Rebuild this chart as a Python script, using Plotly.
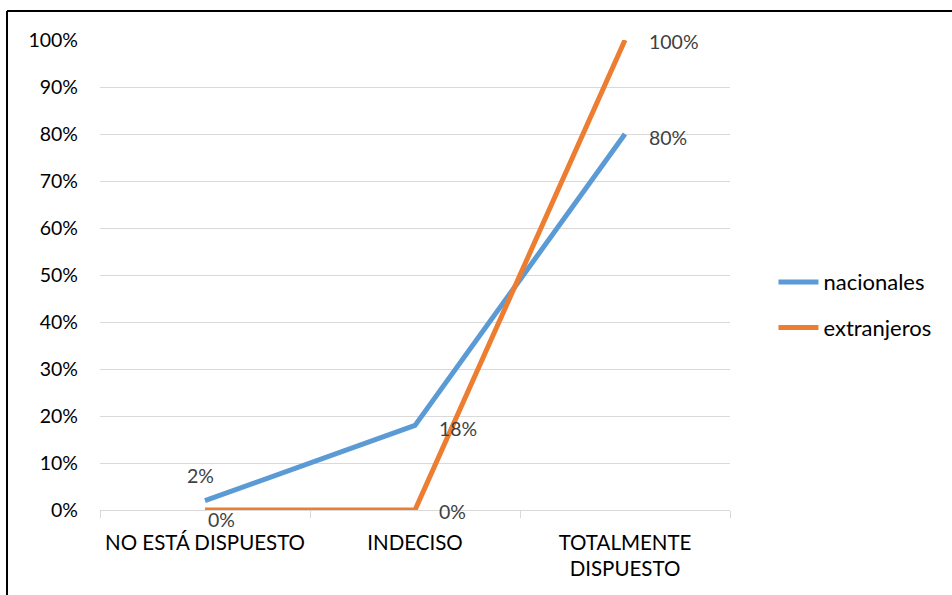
import plotly.graph_objects as go

categories = ["NO ESTÁ DISPUESTO", "INDECISO", "TOTALMENTE<br>DISPUESTO"]
nacionales = [0.02, 0.18, 0.80]
extranjeros = [0.00, 0.00, 1.00]
y_ticks = [0, 0.1, 0.2, 0.3, 0.4, 0.5, 0.6, 0.7, 0.8, 0.9, 1.0]

FONT = "Lato"
BLUE = "#5B9BD5"
ORANGE = "#ED7D31"

fig = go.Figure()
fig.add_trace(go.Scatter(x=categories, y=nacionales, name="nacionales", mode="lines",
                         line=dict(color=BLUE, width=5), legendgroup="a", cliponaxis=False))
fig.add_trace(go.Scatter(x=categories, y=extranjeros, name="extranjeros", mode="lines",
                         line=dict(color=ORANGE, width=5), legendgroup="b", cliponaxis=False))

# data labels (offsets are style only; positions come from data)
nac_offsets = [dict(xanchor="center", xshift=-5, yshift=25),
               dict(xanchor="left", xshift=22, yshift=-3),
               dict(xanchor="left", xshift=22, yshift=-3)]
ext_offsets = [dict(xanchor="center", xshift=16, yshift=-9),
               dict(xanchor="left", xshift=22, yshift=-1),
               dict(xanchor="left", xshift=22, yshift=-1)]
annotations = []
for series, offs in ((nacionales, nac_offsets), (extranjeros, ext_offsets)):
    for cat, v, o in zip(categories, series, offs):
        annotations.append(dict(x=cat, y=v, xref="x", yref="y", text=f"{v:.0%}",
                                showarrow=False, yanchor="middle",
                                font=dict(family=FONT, size=19.5, color="#404040"), **o))

fig.update_layout(
    width=952, height=595,
    margin=dict(l=100, r=222, t=40, b=85),
    paper_bgcolor="white", plot_bgcolor="white",
    font=dict(family=FONT, size=19.5, color="black"),
    showlegend=True,
    legend=dict(x=1.069, y=0.436, xanchor="left", yanchor="middle",
                font=dict(family=FONT, size=22, color="black"),
                traceorder="grouped", tracegroupgap=14, itemwidth=40),
    xaxis=dict(type="category", range=[-0.5, 2.5], showgrid=False,
               showline=True, linecolor="#D9D9D9", linewidth=1,
               ticks="outside", tickson="boundaries", ticklen=7,
               tickcolor="#D9D9D9", tickfont=dict(size=20.5, color="black"),
               ticklabelstandoff=14, zeroline=False),
    yaxis=dict(range=[0, 1.0], tickvals=y_ticks, tickformat=".0%",
               showgrid=True, gridcolor="#D9D9D9", gridwidth=1,
               zeroline=False, showline=False, ticks="",
               ticklabelstandoff=21, tickfont=dict(size=19.5, color="black")),
    annotations=annotations,
    shapes=[
        dict(type="line", xref="paper", yref="paper", x0=-0.1476, x1=1.6,
             y0=1.0617, y1=1.0617, line=dict(color="black", width=2)),
        dict(type="line", xref="paper", yref="paper", x0=-0.1476, x1=-0.1476,
             y0=1.0617, y1=-0.3, line=dict(color="black", width=2)),
    ],
)
fig.write_html("out.html", config={"displayModeBar": False},
               post_script="document.body.style.margin='0';")
